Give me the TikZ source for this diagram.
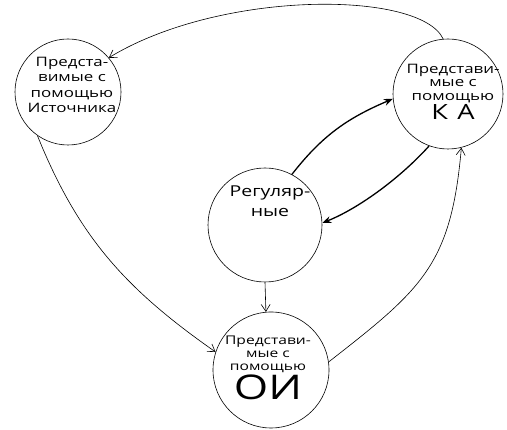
\documentclass[tikz,border=0pt]{standalone}
\usepackage{fontspec}
\setmainfont{Open Sans}
\newfontfamily\hand[FakeStretch=1.3]{Open Sans}
\usetikzlibrary{arrows.meta}
\begin{document}
\begin{tikzpicture}[x=1pt,y=1pt,
  circ/.style={draw, circle, line width=0.6pt, inner sep=0pt},
  txt/.style={align=center, font=\hand\fontsize{12}{13}\selectfont, inner sep=0pt},
  conn/.style={line width=0.6pt, -{Straight Barb[length=7pt,width=9pt]}},
  thick conn/.style={line width=1.3pt, -{Stealth[length=9pt,width=7pt]}}
]
\useasboundingbox (0,0) rectangle (507,430);
% circles
\node[circ, minimum size=106pt] (ist) at (68,338) {};
\node[circ, minimum size=110pt] (ka) at (448,336) {};
\node[circ, minimum size=114pt] (reg) at (265,205) {};
\node[circ, minimum size=116pt] (oi) at (271,60) {};
% texts
\node[txt, font=\hand\fontsize{13}{15.5}\selectfont] (istt) at (72,345) {Предста-\\вимые с\\помощью\\Источника};
\node[txt, font=\hand\fontsize{13}{13.5}\selectfont] (kat) at (453,338) {Представи-\\мые с\\помощью\\[1pt]{\fontsize{21}{22}\selectfont К\hspace{0.45em}А}};
\node[txt, font=\hand\fontsize{15}{20}\selectfont] (regt) at (270,229) {Регуляр-\\ные};
\node[txt] (oit) at (268,62) {Представи-\\мые с\\помощью\\[1pt]{\fontsize{34}{34}\selectfont ОИ}};
% connectors
\draw[conn] (ka.95) .. controls (420,440) and (220,440) .. (ist.40);
\draw[conn] (ist.235) to[out=-68, in=145] (oi.162);
\draw[conn] (oi.8) to[out=38, in=265, looseness=1.2] (ka.284);
\draw[thick conn] (reg.62) to[out=52, in=203] (ka.185);
\draw[thick conn] (ka.250) to[out=228, in=22, looseness=0.8] (reg.2);
\draw[conn] (reg.270) -- (oi.95);
\end{tikzpicture}
\end{document}
